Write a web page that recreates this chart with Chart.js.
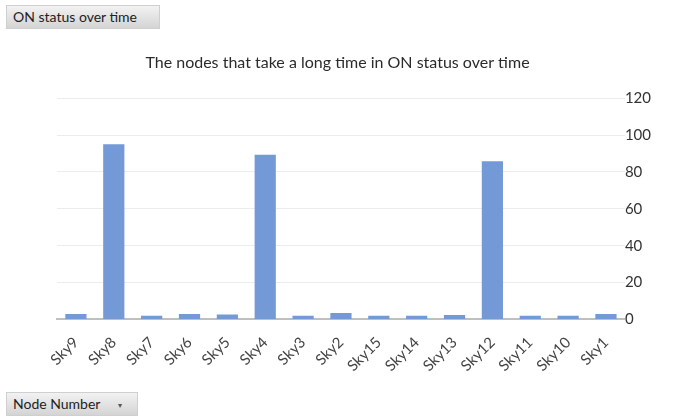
<!DOCTYPE html>
<html>
<head>
<meta charset="utf-8">
<script src="https://cdn.jsdelivr.net/npm/chart.js@4"></script>
<style>
  html, body { margin: 0; padding: 0; background: #fff; width: 675px; height: 418px; overflow: hidden; }
  #wrap { position: relative; width: 675px; height: 418px; }
  canvas { position: absolute; left: 0; top: 0; }
  .btn {
    position: absolute; font-family: Lato, "Open Sans", sans-serif; font-size: 14px; color: #222;
    background: linear-gradient(#f2f2f2, #d4d4d4); border: 1px solid #cfcfcf; box-sizing: border-box;
    line-height: 22px; padding: 0 6px; white-space: nowrap;
  }
</style>
</head>
<body>
<div id="wrap">
  <canvas id="c" width="675" height="418"></canvas>
  <div class="btn" style="left:6px;top:5px;width:154px;height:24px;">ON status over time</div>
  <div class="btn" style="left:6px;top:392px;width:132px;height:24px;">Node Number <span style="font-size:8px;margin-left:14px;color:#555;vertical-align:middle;">&#9662;</span></div>
</div>
<script>
const categories = ["Sky9","Sky8","Sky7","Sky6","Sky5","Sky4","Sky3","Sky2","Sky15","Sky14","Sky13","Sky12","Sky11","Sky10","Sky1"];
const onTime = [3, 95, 2, 3, 2.7, 89.3, 2, 3.5, 2, 2, 2.4, 85.8, 2, 2, 3];
const yTicks = [0, 20, 40, 60, 80, 100, 120];
const chartTitle = "The nodes that take a long time in ON status over time";

const centerTitle = {
  id: 'centerTitle',
  afterLayout(chart) {
    if (chart.titleBlock) {
      chart.titleBlock.left = 0;
      chart.titleBlock.right = chart.width;
      chart.titleBlock.width = chart.width;
    }
  }
};

new Chart(document.getElementById('c'), {
  type: 'bar',
  data: {
    labels: categories,
    datasets: [{
      data: onTime,
      backgroundColor: '#7399d6',
      barPercentage: 0.56,
      categoryPercentage: 1.0
    }]
  },
  plugins: [centerTitle],
  options: {
    responsive: false,
    animation: false,
    layout: { padding: { left: 57, right: 24, top: 0, bottom: 29 } },
    plugins: {
      legend: { display: false },
      tooltip: { enabled: false },
      title: {
        display: true,
        text: chartTitle,
        color: '#2b2b2b',
        font: { family: "Lato, 'Open Sans', sans-serif", size: 16, weight: 'normal' },
        padding: { top: 53, bottom: 26 }
      }
    },
    scales: {
      x: {
        grid: { display: false, drawTicks: false },
        border: { display: true, color: '#bfbfbf', width: 2 },
        ticks: {
          color: '#444',
          font: { family: "Lato, 'Open Sans', sans-serif", size: 15 },
          maxRotation: 45, minRotation: 45,
          padding: 14
        }
      },
      y: {
        position: 'right',
        min: yTicks[0], max: yTicks[yTicks.length - 1],
        afterBuildTicks: (axis) => { axis.ticks = yTicks.map(v => ({ value: v })); },
        grid: { color: '#ececec', drawTicks: false, lineWidth: 1 },
        border: { display: false },
        ticks: {
          color: '#333',
          font: { family: "Lato, 'Open Sans', sans-serif", size: 15 },
          padding: 0
        }
      }
    }
  }
});
</script>
</body>
</html>
